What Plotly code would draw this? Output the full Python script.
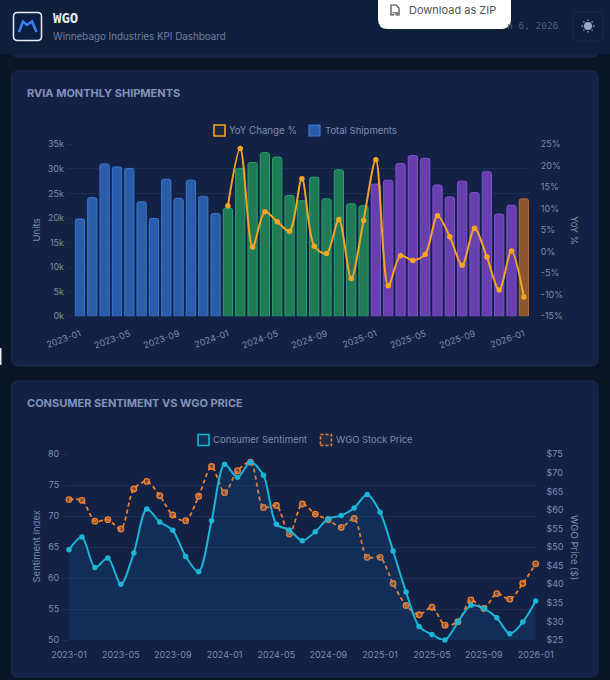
import plotly.graph_objects as go

W, H = 610, 680

#%% Data
months = [f"{y}-{m:02d}" for y in (2023, 2024, 2025) for m in range(1, 13)] + ["2026-01"]

shipments = [19800, 24150, 31000, 30400, 30100, 23300, 19900, 27900, 24000, 27700, 24400, 20900,
             22000, 30100, 31300, 33300, 32400, 24600, 23500, 28300, 23900, 29800, 22900, 22500,
             26900, 27700, 31100, 32700, 32150, 26700, 24300, 27500, 25200, 29400, 20800, 22600,
             23900]

yoy_months = months[12:]
yoy_change = [10.7, 24.0, 1.1, 9.3, 7.0, 4.8, 17.0, 1.3, -0.4, 7.5, -6.2, 7.3,
              21.4, -7.9, -0.9, -2.0, -0.6, 8.4, 3.5, -3.1, 5.5, -1.2, -8.9, 0.2,
              -10.5]

sentiment = [64.6, 66.65, 61.7, 63.25, 59.0, 64.06, 71.17, 69.07, 67.72, 63.5, 61.04, 69.28,
             78.38, 76.28, 78.76, 76.6, 68.7, 67.78, 66.05, 67.5, 69.6, 70.1, 71.33, 73.5,
             70.63, 64.38, 57.76, 52.2, 50.87, 50.0, 52.9, 55.6, 55.07, 53.6, 51.0, 52.9,
             56.3]

wgo_price = [62.8, 62.6, 57.0, 57.4, 54.9, 65.66, 67.7, 63.87, 58.66, 57.14, 63.7, 71.7,
             64.68, 70.6, 72.85, 60.7, 61.2, 53.55, 61.6, 58.9, 57.4, 55.3, 57.7, 47.26,
             47.26, 40.2, 34.3, 31.8, 33.8, 29.0, 29.9, 35.8, 33.5, 37.5, 36.0, 40.2,
             45.5]

x_ticks = months[::4]
units_ticks = [0, 5000, 10000, 15000, 20000, 25000, 30000, 35000]
units_labels = ["0k", "5k", "10k", "15k", "20k", "25k", "30k", "35k"]
yoy_ticks = [-15, -10, -5, 0, 5, 10, 15, 20, 25]
yoy_labels = [f"{v}%" for v in yoy_ticks]
sent_ticks = [50, 55, 60, 65, 70, 75, 80]
price_ticks = [25, 30, 35, 40, 45, 50, 55, 60, 65, 70, 75]
price_labels = [f"${v}" for v in price_ticks]

#%% Colours
PAGE = "#0a1526"
HEADER = "#0f1e3a"
CARD = "#122144"
CARD_EDGE = "#1a2c56"
GRID = "rgba(110,140,200,0.12)"
TICK = "#7d8db0"
TITLE = "#8193ba"
FONT = "Inter"
YEAR_FILL = {"2023": "#2b5ca8", "2024": "#1f7a55", "2025": "#683fae", "2026": "#8f5530"}
YEAR_EDGE = {"2023": "#3b78d8", "2024": "#28a36e", "2025": "#8350d2", "2026": "#b56c38"}
AMBER = "#f5a524"
CYAN = "#1cb5d8"
ORANGE = "#f08030"
NO_INK = "rgba(0,0,0,0)"
SMOOTH = 0.85


#%% Helpers in page pixels
def px(x):
    return x / W


def py(y):
    return 1 - y / H


def rrect(x0, y0, x1, y1, r, fill, edge=None, width=1):
    p = (f"M {px(x0 + r)} {py(y0)} L {px(x1 - r)} {py(y0)} Q {px(x1)} {py(y0)} {px(x1)} {py(y0 + r)} "
         f"L {px(x1)} {py(y1 - r)} Q {px(x1)} {py(y1)} {px(x1 - r)} {py(y1)} "
         f"L {px(x0 + r)} {py(y1)} Q {px(x0)} {py(y1)} {px(x0)} {py(y1 - r)} "
         f"L {px(x0)} {py(y0 + r)} Q {px(x0)} {py(y0)} {px(x0 + r)} {py(y0)} Z")
    return dict(type="path", xref="paper", yref="paper", path=p, fillcolor=fill, layer="below",
                line=dict(color=edge or fill, width=width if edge else 0))


def poly(points, color, width=1.5):
    p = "M " + " L ".join(f"{px(a)} {py(b)}" for a, b in points)
    return dict(type="path", xref="paper", yref="paper", path=p, layer="above",
                line=dict(color=color, width=width))


def label(text, x, y, size=10, color=TICK, anchor="left", family=FONT, angle=0):
    return dict(text=text, xref="paper", yref="paper", x=px(x), y=py(y), showarrow=False,
                xanchor=anchor, yanchor="middle", textangle=angle, borderpad=0, borderwidth=0,
                font=dict(family=family, size=size, color=color))


#%% Traces
fig = go.Figure()

fig.add_trace(go.Bar(x=months, y=shipments, xaxis="x", yaxis="y",
                     marker=dict(color=[YEAR_FILL[m[:4]] for m in months],
                                 line=dict(color=[YEAR_EDGE[m[:4]] for m in months], width=1),
                                 cornerradius=2)))
fig.add_trace(go.Scatter(x=yoy_months, y=yoy_change, xaxis="x", yaxis="y2", mode="lines+markers",
                         cliponaxis=False,
                         line=dict(color=AMBER, width=2, shape="spline", smoothing=SMOOTH),
                         marker=dict(color=AMBER, size=5.5)))

fig.add_trace(go.Scatter(x=months, y=sentiment, xaxis="x2", yaxis="y4", mode="lines",
                         line=dict(color=NO_INK, width=0, shape="spline", smoothing=SMOOTH),
                         fill="tozeroy", fillcolor="rgba(20,130,210,0.13)"))
fig.add_trace(go.Scatter(x=months, y=wgo_price, xaxis="x2", yaxis="y3", mode="lines+markers",
                         cliponaxis=False,
                         line=dict(color=ORANGE, width=1.8, dash="4px,3px", shape="spline", smoothing=SMOOTH),
                         marker=dict(color="rgba(240,128,48,0.45)", size=5.5, line=dict(color=ORANGE, width=1.4))))
fig.add_trace(go.Scatter(x=months, y=sentiment, xaxis="x2", yaxis="y4", mode="lines+markers",
                         cliponaxis=False,
                         line=dict(color=CYAN, width=2, shape="spline", smoothing=SMOOTH),
                         marker=dict(color=CYAN, size=5.5)))

#%% Page furniture
shapes = [
    rrect(12, 20, 598, 57, 6, CARD, CARD_EDGE),
    dict(type="rect", xref="paper", yref="paper", x0=0, x1=1, y0=py(54), y1=1,
         fillcolor=HEADER, layer="below", line=dict(width=0)),
    rrect(11.5, 71, 598, 366, 7, CARD, CARD_EDGE),
    rrect(11.5, 381, 598, 677, 7, CARD, CARD_EDGE),
    rrect(0, 348, 1.5, 365, 0.5, "#e8ecf2"),
    # logo
    rrect(13.5, 12.5, 41.5, 40.5, 4, "#0c1e40", "#e6ecf5", 1.5),
    poly([(19, 32), (23, 21.5), (27, 25), (32, 21.5), (36.5, 32)], "#3b82f6", 2.5),
    # theme button
    rrect(573, 12, 603, 41, 4, HEADER, "#182848"),
    dict(type="circle", xref="paper", yref="paper", x0=px(584), x1=px(592), y0=py(30), y1=py(22),
         fillcolor="#9aa8c8", layer="above", line=dict(width=0)),
    poly([(588, 19.5), (588, 21)], "#9aa8c8", 1.3),
    poly([(588, 31), (588, 32.5)], "#9aa8c8", 1.3),
    poly([(581.5, 26), (583, 26)], "#9aa8c8", 1.3),
    poly([(593, 26), (594.5, 26)], "#9aa8c8", 1.3),
    poly([(583.4, 21.4), (584.4, 22.4)], "#9aa8c8", 1.3),
    poly([(591.6, 29.6), (592.6, 30.6)], "#9aa8c8", 1.3),
    poly([(583.4, 30.6), (584.4, 29.6)], "#9aa8c8", 1.3),
    poly([(591.6, 22.4), (592.6, 21.4)], "#9aa8c8", 1.3),
    # legends
    dict(type="rect", xref="paper", yref="paper", x0=px(214), x1=px(225), y0=py(136), y1=py(125),
         fillcolor="rgba(245,165,36,0.05)", line=dict(color=AMBER, width=1.6)),
    dict(type="rect", xref="paper", yref="paper", x0=px(309), x1=px(320), y0=py(136), y1=py(125),
         fillcolor=YEAR_FILL["2023"], line=dict(color=YEAR_EDGE["2023"], width=1.2)),
    dict(type="rect", xref="paper", yref="paper", x0=px(198), x1=px(209), y0=py(445.5), y1=py(434.5),
         fillcolor="rgba(28,181,216,0.1)", line=dict(color=CYAN, width=1.6)),
    dict(type="rect", xref="paper", yref="paper", x0=px(320.5), x1=px(331.5), y0=py(445.5), y1=py(434.5),
         fillcolor="rgba(240,128,48,0.08)", line=dict(color=ORANGE, width=1.6, dash="3px,2px")),
    # download popup
    rrect(378, -12, 511, 29, 10, "#ffffff"),
    poly([(394, 15), (391, 15), (391, 5), (396, 5), (399, 8), (399, 15), (396, 15)], "#444444", 1.2),
]

annotations = [
    label("<b>WGO</b>", 53, 18, 14, "#e4e9f2", family="DejaVu Sans Mono"),
    label("Winnebago Industries KPI Dashboard", 53, 36, 9.8, "#6d80a3"),
    label("n 6, 2026", 559, 26, 9.5, "#4d5e80", anchor="right", family="DejaVu Sans Mono"),
    label("Download as ZIP", 409, 10, 11, "#555555"),
    label("<b>ZIP</b>", 395, 13.5, 4, "#444444", anchor="center"),
    label("<b>RVIA MONTHLY SHIPMENTS</b>", 27, 93, 11, TITLE),
    label("<b>CONSUMER SENTIMENT VS WGO PRICE</b>", 27, 403, 11, TITLE),
    label("YoY Change %", 229, 130, 9.7, TICK),
    label("Total Shipments", 325, 130, 9.5, TICK),
    label("Consumer Sentiment", 213, 439.5, 9.5, TICK),
    label("WGO Stock Price", 336, 439.5, 9.4, TICK),
    label("Units", 35.5, 230, 9.5, TICK, anchor="center", angle=-90),
    label("YoY %", 575, 230, 9.5, TICK, anchor="center", angle=90),
    label("Sentiment Index", 35.5, 547, 9.5, TICK, anchor="center", angle=-90),
    label("WGO Price ($)", 575, 547, 9.5, TICK, anchor="center", angle=90),
]

tick_font = dict(family=FONT, size=9, color=TICK)

fig.update_layout(
    template="none",
    width=W, height=H, margin=dict(l=0, r=0, t=0, b=0, autoexpand=False), autosize=False,
    paper_bgcolor=PAGE, plot_bgcolor=NO_INK, showlegend=False, bargap=0.25,
    shapes=shapes, annotations=annotations,
    xaxis=dict(domain=[px(73.8), px(530)], type="category", categoryorder="array", categoryarray=months,
               range=[-0.5, 36.5], tickvals=x_ticks, tickangle=-20, tickfont=tick_font, automargin=False,
               showgrid=False, zeroline=False, showline=False,
               ticks="outside", ticklen=8, tickcolor=NO_INK, anchor="y"),
    yaxis=dict(domain=[py(316.3), py(144.3)], range=[0, 35000], tickvals=units_ticks, ticktext=units_labels,
               tickfont=tick_font, gridcolor=GRID, gridwidth=1, zeroline=False, showline=False, automargin=False,
               ticks="outside", ticklen=5, tickcolor=GRID, ticklabelstandoff=2, anchor="x"),
    yaxis2=dict(domain=[py(316.3), py(144.3)], range=[-15, 25], tickvals=yoy_ticks, ticktext=yoy_labels,
                tickfont=tick_font, overlaying="y", side="right", showgrid=False, zeroline=False, automargin=False,
                showline=False, ticks="outside", ticklen=8, tickcolor=NO_INK, anchor="x"),
    xaxis2=dict(domain=[px(69), px(535.7)], type="category", categoryorder="array", categoryarray=months,
                range=[0, 36], tickvals=x_ticks, tickangle=0, tickfont=tick_font, automargin=False,
                showgrid=False, zeroline=False, showline=False,
                ticks="outside", ticklen=6, tickcolor=NO_INK, anchor="y3"),
    yaxis3=dict(domain=[py(640), py(454.3)], range=[25, 75], tickvals=price_ticks, ticktext=price_labels,
                tickfont=tick_font, side="right", showgrid=False, zeroline=False, automargin=False,
                showline=False, ticks="outside", ticklen=8, tickcolor=NO_INK, anchor="x2"),
    yaxis4=dict(domain=[py(640), py(454.3)], range=[50, 80], tickvals=sent_ticks,
                tickfont=tick_font, overlaying="y3", side="left", gridcolor=GRID, zeroline=False, automargin=False,
                showline=False, ticks="outside", ticklen=5, tickcolor=GRID, ticklabelstandoff=2, anchor="x2"),
)

fig.write_html("out.html", config=dict(displayModeBar=False),
               post_script="document.body.style.margin='0';document.body.style.background='%s';document.body.style.overflow='hidden';" % PAGE)
